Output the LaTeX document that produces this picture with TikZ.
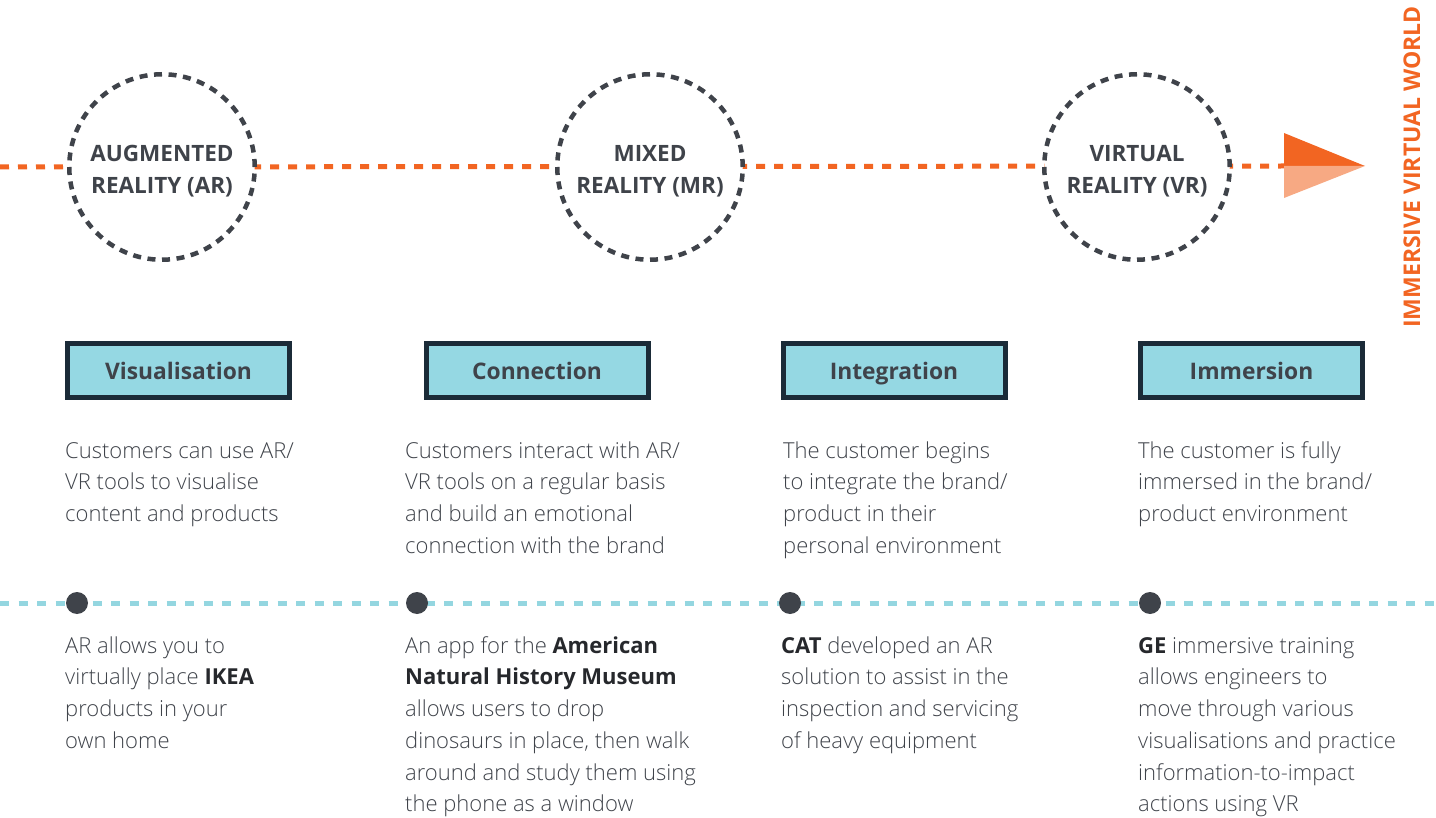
\documentclass[tikz,border=0pt]{standalone}
\usepackage{fontspec}
\setmainfont{Open Sans}
\IfFontExistsTF{Open Sans Light}{\newfontfamily\lightfont{Open Sans Light}}{\newfontfamily\lightfont{Open Sans}}
\definecolor{ink}{HTML}{3F434A}
\definecolor{inkdark}{HTML}{26282C}
\definecolor{navy}{HTML}{1B2B38}
\definecolor{teal}{HTML}{95D8E3}
\definecolor{dashblue}{HTML}{94D6E0}
\definecolor{orange}{HTML}{F26522}
\definecolor{orangelight}{HTML}{F7A983}
\newcommand\kw[1]{{\normalfont\bfseries\color{inkdark}#1}}
\begin{document}
\begin{tikzpicture}[x=1pt,y=-1pt,
  stage/.style={circle, draw=ink, fill=white, line width=4.5pt,
    dash pattern=on 8pt off 6.57pt, minimum size=185.5pt, inner sep=0pt},
  stagetext/.style={align=center, text=ink, inner sep=0pt,
    font=\fontsize{22.5}{32}\selectfont\bfseries},
  phase/.style={rectangle, draw=navy, fill=teal, line width=5pt,
    minimum width=222pt, minimum height=54pt, inner sep=0pt,
    text height=19pt, text depth=0pt,
    text=ink, font=\fontsize{22.8}{26}\selectfont\bfseries},
  % anchored on the baseline of the last line
  desc/.style={anchor=base west, inner sep=0pt, align=left, text=ink,
    font=\lightfont\fontsize{22}{31.75}\selectfont},
  dot/.style={circle, fill=ink, minimum size=22pt, inner sep=0pt},
  orangeline/.style={draw=orange, line width=5pt, dash pattern=on 9pt off 9pt},
  blueline/.style={draw=dashblue, line width=5pt, dash pattern=on 9pt off 9.5pt}]
\useasboundingbox (0,0) rectangle (1436,818);

% progression axis
\coordinate (ostart) at (0,167);
\coordinate (atop) at (1284,133);
\coordinate (amid) at (1284,166);
\coordinate (abot) at (1284,198);
\coordinate (atip) at (1365,166);
\draw[orangeline] (ostart) -- (amid);
\fill[orange] (atop) -- (atip) -- (amid) -- cycle;
\fill[orangelight] (amid) -- (atip) -- (abot) -- cycle;
\node[rotate=90, text=orange, font=\fontsize{23}{26}\selectfont\bfseries] (world) at (1412,167) {IMMERSIVE VIRTUAL WORLD};

% stage rings with their labels
\node[stage] (ar) at (162,167) {};
\node[stage] (mr) at (650,167) {};
\node[stage] (vr) at (1137,167) {};
\node[stagetext] (arl) at ([yshift=-4pt]ar.center) {AUGMENTED\\REALITY (AR)};
\node[stagetext] (mrl) at ([yshift=-4pt]mr.center) {MIXED\\REALITY (MR)};
\node[stagetext] (vrl) at ([yshift=-4pt]vr.center) {VIRTUAL\\REALITY (VR)};

% phases
\node[phase] (p1) at (178.5,370.5) {Visualisation};
\node[phase] (p2) at (537,370.5) {Connection};
\node[phase] (p3) at (894,370.5) {Integration};
\node[phase] (p4) at (1251.5,370.5) {Immersion};

\node[desc] (d1) at (65,521.5) {Customers can use AR/\\VR tools to visualise\\content and products};
\node[desc] (d2) at (405,553.25) {Customers interact with AR/\\VR tools on a regular basis\\and build an emotional\\connection with the brand};
\node[desc] (d3) at (783,553.25) {The customer begins\\to integrate the brand/\\product in their\\personal environment};
\node[desc] (d4) at (1138,521.5) {The customer is fully\\immersed in the brand/\\product environment};

% examples axis
\coordinate (bstart) at (0,603);
\coordinate (bend) at (1436,603);
\draw[blueline] (bstart) -- (bend);
\node[dot] (e1) at (77,603) {};
\node[dot] (e2) at (417,603) {};
\node[dot] (e3) at (790,603) {};
\node[dot] (e4) at (1150,603) {};

\node[desc] (x1) at (65,748.25) {AR allows you to\\virtually place \kw{IKEA}\\products in your\\own home};
\node[desc] (x2) at (405,811.75) {An app for the \kw{American}\\\kw{Natural History Museum}\\allows users to drop\\dinosaurs in place, then walk\\around and study them using\\the phone as a window};
\node[desc] (x3) at (781,748.25) {\kw{CAT} developed an AR\\solution to assist in the\\inspection and servicing\\of heavy equipment};
\node[desc] (x4) at (1138,811.75) {\kw{GE} immersive training\\allows engineers to\\move through various\\visualisations and practice\\information-to-impact\\actions using VR};
\end{tikzpicture}
\end{document}
